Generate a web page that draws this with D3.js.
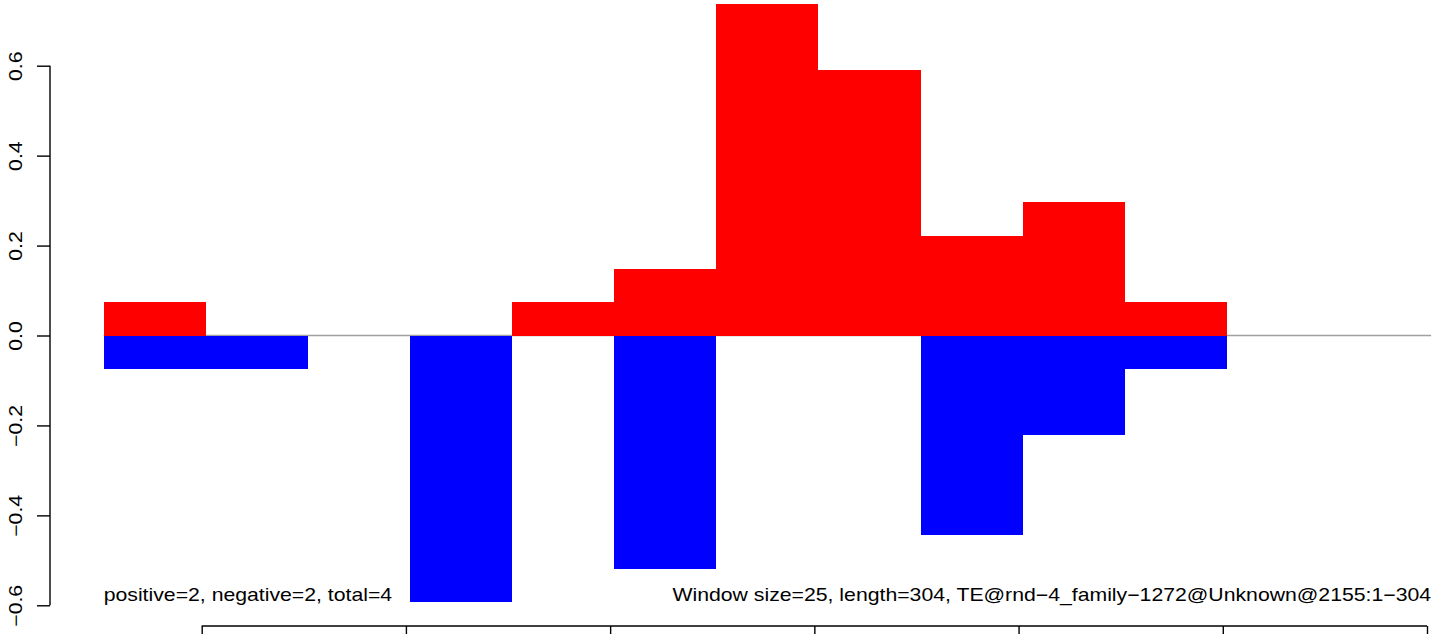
<!DOCTYPE html>
<html>
<head>
<meta charset="utf-8">
<script src="https://cdn.jsdelivr.net/npm/d3@7"></script>
<style>
  html, body { margin: 0; padding: 0; background: #fff; }
  svg { display: block; font-family: "Liberation Sans", Arial, Helvetica, sans-serif; }
</style>
</head>
<body>
<svg id="chart" width="1444" height="634"></svg>
<script>
// ---- data ----
const windowSize = 25;
const seqLength = 304;
const binStarts = [26, 51, 76, 101, 126, 151, 176, 201, 226, 251, 276, 301, 326];
const positiveValues = [0.074, 0, 0, 0, 0.074, 0.148, 0.738, 0.591, 0.222, 0.296, 0.074, 0, 0];
const negativeValues = [-0.074, -0.074, 0, -0.593, 0, -0.519, 0, 0, -0.444, -0.222, -0.074, 0, 0];
const yTicks = [-0.6, -0.4, -0.2, 0.0, 0.2, 0.4, 0.6];
const xTicks = [50, 100, 150, 200, 250, 300, 350];
const leftNote = "positive=2, negative=2, total=4";
const rightNote = "Window size=25, length=304, TE@rnd\u22124_family\u22121272@Unknown@2155:1\u2212304";

// ---- layout ----
const svg = d3.select("#chart");
const x = d3.scaleLinear().domain([50, 350]).range([201.7, 1427]);
const y = d3.scaleLinear().domain([-0.6, 0.6]).range([605.3, 65.7]);
const xEnd = binStarts[binStarts.length - 1] + windowSize;
const fontSize = 18;
const stretch = 1.18; // glyph widening along the text direction

// zero line
svg.append("line")
  .attr("x1", x(binStarts[0])).attr("x2", x(xEnd))
  .attr("y1", y(0)).attr("y2", y(0))
  .attr("stroke", "#a0a0a0").attr("stroke-width", 1.6);

// positive bars
svg.append("g").selectAll("rect").data(binStarts.map((s, i) => ({s, v: positiveValues[i]})).filter(d => d.v !== 0))
  .join("rect")
  .attr("x", d => x(d.s)).attr("width", d => x(d.s + windowSize) - x(d.s))
  .attr("y", d => y(d.v)).attr("height", d => y(0) - y(d.v))
  .attr("fill", "#ff0000").attr("shape-rendering", "crispEdges");

// negative bars
svg.append("g").selectAll("rect").data(binStarts.map((s, i) => ({s, v: negativeValues[i]})).filter(d => d.v !== 0))
  .join("rect")
  .attr("x", d => x(d.s)).attr("width", d => x(d.s + windowSize) - x(d.s))
  .attr("y", d => y(0)).attr("height", d => y(d.v) - y(0))
  .attr("fill", "#0000ff").attr("shape-rendering", "crispEdges");

// y axis
const fmt = v => d3.format(".1f")(v).replace("-", "\u2212");
const yAxis = svg.append("g").attr("transform", "translate(50,0)")
  .call(d3.axisLeft(y).tickValues(yTicks).tickSize(13).tickPadding(0).tickFormat(fmt));
yAxis.select(".domain").attr("stroke", "#000").attr("stroke-width", 1.4)
  .attr("d", `M0,${y(0.6)}V${y(-0.6)}`);
yAxis.selectAll(".tick line").attr("stroke", "#000").attr("stroke-width", 1.4);
yAxis.selectAll(".tick text")
  .attr("font-size", fontSize).attr("fill", "#000")
  .attr("font-family", "Liberation Sans, Arial, sans-serif")
  .attr("x", null).attr("dy", null)
  .attr("text-anchor", "middle")
  .attr("transform", `translate(-28,0) rotate(-90) scale(${stretch},1)`);

// x axis (labels fall below the visible area)
const xAxis = svg.append("g").attr("transform", "translate(0,626)")
  .call(d3.axisBottom(x).tickValues(xTicks).tickSize(13).tickFormat(""));
xAxis.select(".domain").attr("stroke", "#000").attr("stroke-width", 1.4)
  .attr("d", `M${x(50)},0H${x(350)}`);
xAxis.selectAll(".tick line").attr("stroke", "#000").attr("stroke-width", 1.4);

// notes
svg.append("text")
  .attr("transform", `translate(${x(binStarts[0])},601) scale(${stretch},1)`)
  .attr("font-size", fontSize).attr("fill", "#000").text(leftNote);
svg.append("text")
  .attr("transform", `translate(${x(xEnd)},601) scale(${stretch},1)`)
  .attr("text-anchor", "end").attr("font-size", fontSize).attr("fill", "#000").text(rightNote);
</script>
</body>
</html>
